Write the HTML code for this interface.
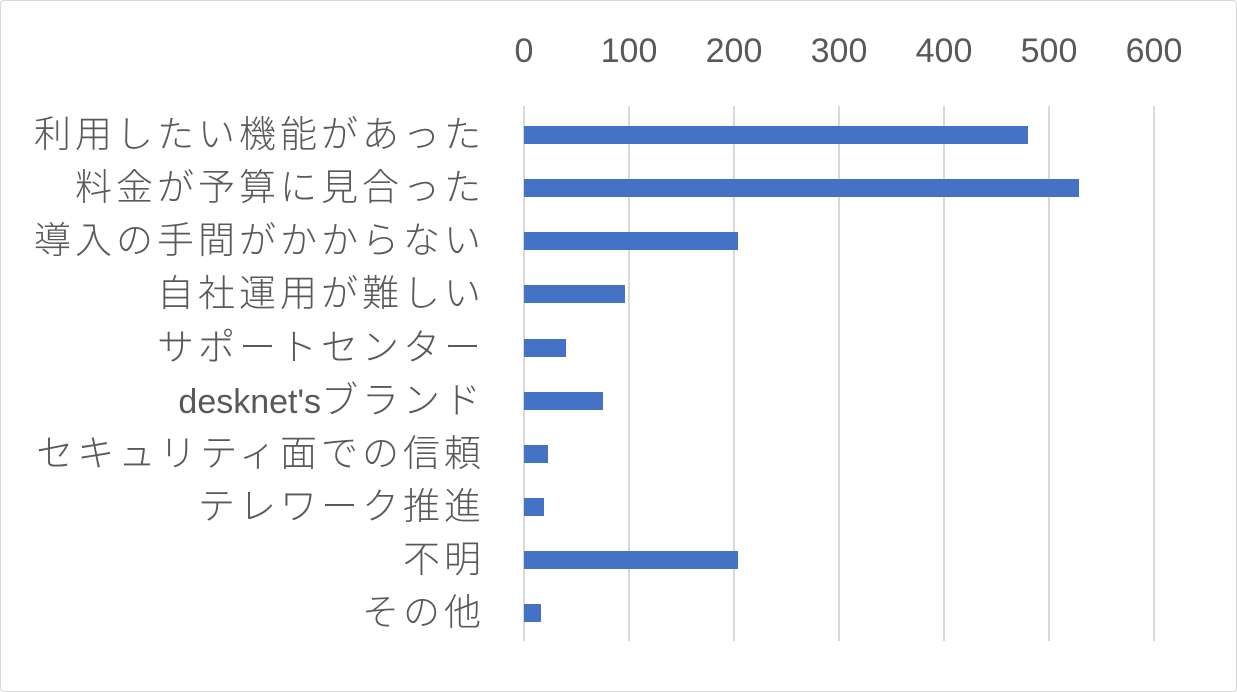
<!DOCTYPE html>
<html><head><meta charset="utf-8"><style>
body{margin:0;background:#fff}
#c{position:relative;width:1235px;height:690px;border:1px solid #d9d9d9;border-radius:4px;overflow:hidden;font-family:"Liberation Sans","Noto Sans CJK JP",sans-serif;color:#595959}
.t{position:absolute;top:31px;font-size:34px;width:100px;text-align:center;margin-left:-50px}
.g{position:absolute;top:105px;height:535px;width:2px;background:#d9d9d9}
.b{position:absolute;height:18px;background:#4472c4;left:523px}
.l{position:absolute;right:751px;font-size:37px;letter-spacing:4px;white-space:nowrap;line-height:40px;font-weight:300}
</style></head><body><div id="c">
<div class="g" style="left:522px"></div><div class="g" style="left:627px"></div><div class="g" style="left:732px"></div><div class="g" style="left:837px"></div><div class="g" style="left:942px"></div><div class="g" style="left:1047px"></div><div class="g" style="left:1152px"></div>
<div class="t" style="left:523px">0</div><div class="t" style="left:628px">100</div><div class="t" style="left:733px">200</div><div class="t" style="left:838px">300</div><div class="t" style="left:943px">400</div><div class="t" style="left:1048px">500</div><div class="t" style="left:1153px">600</div>
<div class="b" style="top:125px;width:504px"></div>
<div class="b" style="top:178px;width:555px"></div>
<div class="b" style="top:231px;width:214px"></div>
<div class="b" style="top:284px;width:101px"></div>
<div class="b" style="top:338px;width:42px"></div>
<div class="b" style="top:391px;width:79px"></div>
<div class="b" style="top:444px;width:24px"></div>
<div class="b" style="top:497px;width:20px"></div>
<div class="b" style="top:550px;width:214px"></div>
<div class="b" style="top:603px;width:17px"></div>
<div class="l" style="top:114px">利用したい機能があった</div>
<div class="l" style="top:167px">料金が予算に見合った</div>
<div class="l" style="top:220px">導入の手間がかからない</div>
<div class="l" style="top:273px">自社運用が難しい</div>
<div class="l" style="top:327px">サポートセンター</div>
<div class="l" style="top:380px"><span style="letter-spacing:0;font-size:34px">desknet's</span>ブランド</div>
<div class="l" style="top:433px">セキュリティ面での信頼</div>
<div class="l" style="top:486px">テレワーク推進</div>
<div class="l" style="top:539px">不明</div>
<div class="l" style="top:592px">その他</div>
</div></body></html>
